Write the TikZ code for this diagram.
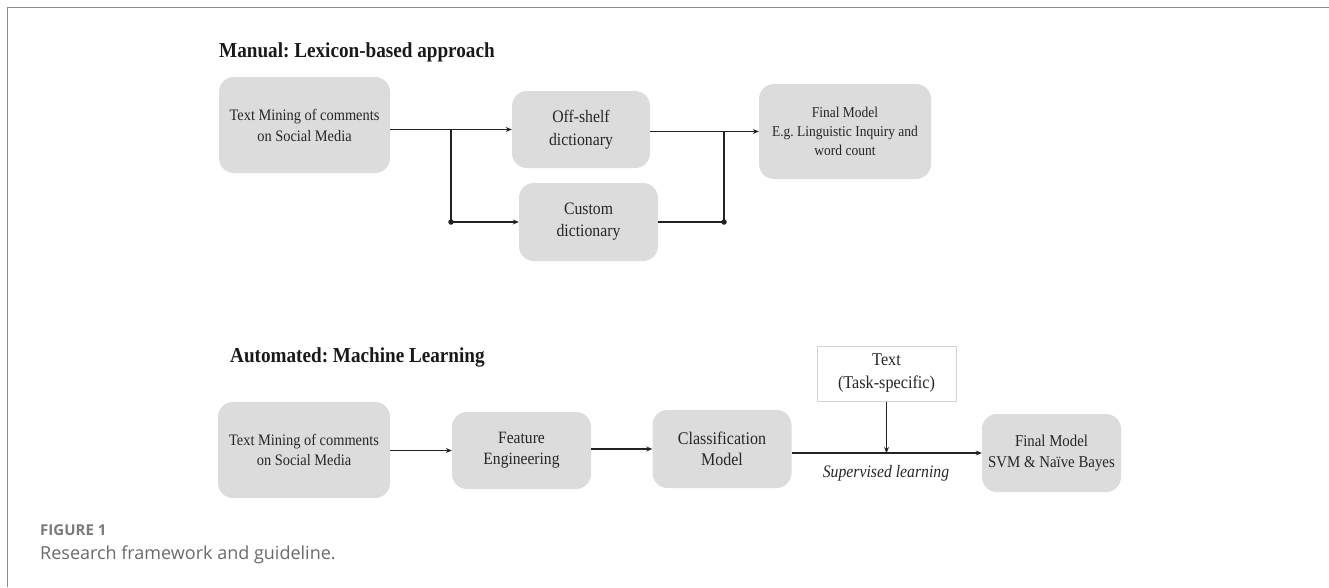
\documentclass[tikz,border=0pt]{standalone}
\usepackage{fontspec}
\setmainfont{Liberation Serif}[FakeStretch=0.9]
\newfontfamily\capfont{Open Sans}
\usetikzlibrary{arrows.meta}
\frenchspacing
\definecolor{boxgray}{HTML}{DCDCDC}
\definecolor{linecol}{HTML}{222222}
\definecolor{framecol}{HTML}{8A8A8A}
\definecolor{capgray}{HTML}{6A6A6A}
\definecolor{figgray}{HTML}{7A7A7A}
\definecolor{txtborder}{HTML}{D4D4D4}
\tikzset{
  gbox/.style={rectangle, rounded corners=15pt, fill=boxgray, draw=none, align=center,
    inner sep=0pt, font=\fontsize{16}{21}\selectfont, text=black!85},
  wbox/.style={rectangle, fill=white, draw=txtborder, line width=1pt, align=center,
    inner sep=0pt, font=\fontsize{18}{23}\selectfont, text=black!85},
  conn/.style={draw=linecol, line width=1.4pt},
  arr/.style={conn, -{Stealth[length=6pt,width=5pt]}},
  jdot/.style={circle, fill=linecol, inner sep=0pt, minimum size=5.5pt},
  heading/.style={anchor=base west, inner sep=0pt, font=\fontsize{21.3}{25}\selectfont\bfseries, text=black!90},
}
\begin{document}
\begin{tikzpicture}[x=1pt,y=-1pt]
\useasboundingbox (0,0) rectangle (1329,587);
% frame
\draw[framecol, line width=1.6pt] (7.5,587) -- (7.5,7.5) -- (1329,7.5);

% ---------- Manual ----------
\node[heading] (h1) at (219,57) {Manual: Lexicon-based approach};
\node[gbox, minimum width=171pt, minimum height=96pt] (tm1) at (304.5,125) {Text Mining of comments\\on Social Media};
\node[gbox, minimum width=138pt, minimum height=77pt, font=\fontsize{17.5}{23}\selectfont] (off) at (581,129.5) {Off-shelf\\dictionary};
\node[gbox, minimum width=139pt, minimum height=78pt, font=\fontsize{17.5}{22}\selectfont] (cust) at (588.5,222) {Custom\\dictionary};
\node[gbox, minimum width=172pt, minimum height=95pt, font=\fontsize{15}{19}\selectfont] (fin1) at (845,131.5) {Final Model\\E.g. Linguistic Inquiry and\\word count};

\coordinate (br) at (451,129.5);
\coordinate (mg) at (724,222);
\draw[arr] (tm1.east |- off.west) -- (off.west);
\draw[conn] (br) -- (br |- cust.west);
\draw[arr] (br |- cust.west) -- (cust.west);
\node[jdot] (d1) at (br |- cust.west) {};
\draw[arr] (off.east |- fin1.west) -- (fin1.west);
\draw[conn] (cust.east) -- (mg) -- (mg |- fin1.west);
\node[jdot] (d2) at (mg) {};

% ---------- Automated ----------
\node[heading] (h2) at (230,362) {Automated: Machine Learning};
\node[gbox, minimum width=172pt, minimum height=96pt, font=\fontsize{16}{20}\selectfont] (tm2) at (304,450) {Text Mining of comments\\on Social Media};
\node[gbox, minimum width=139pt, minimum height=77pt, font=\fontsize{17.3}{21}\selectfont] (feat) at (521.5,450.5) {Feature\\Engineering};
\node[gbox, minimum width=139pt, minimum height=78pt, font=\fontsize{17.8}{21}\selectfont] (cls) at (722,449) {Classification\\Model};
\node[wbox, minimum width=139pt, minimum height=55pt] (txt) at (886.5,373.5) {Text\\(Task-specific)};
\node[gbox, minimum width=139pt, minimum height=78pt, font=\fontsize{16.5}{21}\selectfont] (fin2) at (1051.5,453) {Final Model\\SVM \& Naïve Bayes};

\draw[arr] (tm2.east |- feat.west) -- (feat.west);
\draw[arr] (feat.east |- cls.west) -- (cls.west);
\draw[arr] (cls.east |- fin2.west) -- (fin2.west);
\draw[arr] (txt.south) -- (txt.south |- fin2.west);
\node[inner sep=0pt, font=\fontsize{17.5}{21}\selectfont\itshape, text=black!85] (sup) at (886,473) {Supervised learning};

% ---------- caption ----------
\node[anchor=base west, inner sep=0pt, font=\capfont\fontsize{15}{18}\selectfont\bfseries, text=figgray] (fig) at (40,535.5) {FIGURE 1};
\node[anchor=base west, inner sep=0pt, font=\capfont\fontsize{18}{22}\selectfont, text=capgray] (cap) at (40,559) {Research framework and guideline.};
\end{tikzpicture}
\end{document}
